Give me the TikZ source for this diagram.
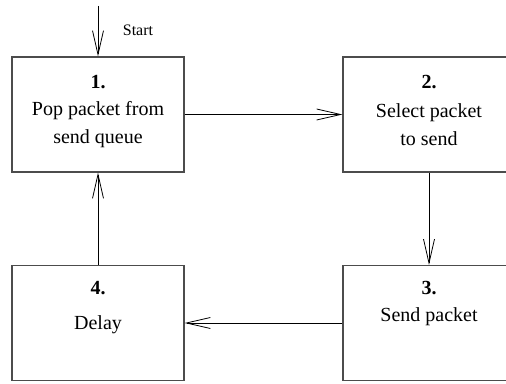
\documentclass[tikz,border=0pt]{standalone}
\usepackage{fontspec}
\setmainfont{Liberation Serif}
\usetikzlibrary{arrows.meta}
\begin{document}
\begin{tikzpicture}[
        x=1pt, y=1pt,
        stage/.style={rectangle, draw=black!70, line width=1.2pt, minimum width=172pt, minimum height=115pt, inner sep=0pt},
        num/.style={font=\fontsize{20}{28}\selectfont\bfseries},
        body/.style={align=center, font=\fontsize{20}{28}\selectfont},
        arrow/.style={-{Straight Barb[length=24pt,width=11pt]}, line width=0.8pt}
    ]
        \useasboundingbox (0,0) rectangle (506,383);
        \clip (0,0) rectangle (506,383);

        \node[stage] (pop) at (98,268.5) {};
        \node[stage] (select) at (429,268.5) {};
        \node[stage] (send) at (429,60) {};
        \node[stage] (delay) at (98,60) {};

        \node[num] at ([yshift=-26pt]pop.north) {1.};
        \node[body] at ([yshift=-68pt]pop.north) {Pop packet from\\send queue};
        \node[num] at ([yshift=-26pt]select.north) {2.};
        \node[body] at ([yshift=-68pt]select.north) {Select packet\\to send};
        \node[num] at ([yshift=-23pt]send.north) {3.};
        \node[body] at ([yshift=-52pt]send.north) {Send packet};
        \node[num] at ([yshift=-23pt]delay.north) {4.};
        \node[body] at ([yshift=-60pt]delay.north) {Delay};

        \coordinate (entry) at (98,377);
        \node[font=\fontsize{16}{18}\selectfont] (start) at (138,353) {Start};

        \draw[arrow] (entry) -- (pop);
        \draw[arrow] (pop) -- (select);
        \draw[arrow] (select) -- (send);
        \draw[arrow] (send) -- (delay);
        \draw[arrow] (delay) -- (pop);
    \end{tikzpicture}
\end{document}
